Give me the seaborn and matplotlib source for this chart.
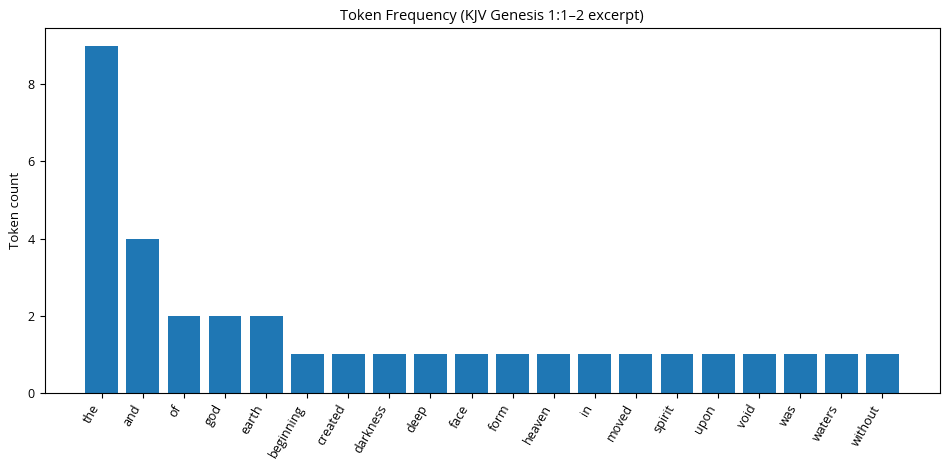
import matplotlib
matplotlib.use("Agg")
import matplotlib.pyplot as plt
import seaborn as sns
import pandas as pd

words = ["the", "and", "of", "god", "earth", "beginning", "created", "darkness",
         "deep", "face", "form", "heaven", "in", "moved", "spirit", "upon",
         "void", "was", "waters", "without"]
counts = [9, 4, 2, 2, 2, 1, 1, 1, 1, 1, 1, 1, 1, 1, 1, 1, 1, 1, 1, 1]

title = "Token Frequency (KJV Genesis 1:1\u20132 excerpt)"
ylabel = "Token count"

plt.rcParams['font.family'] = ['Open Sans', 'DejaVu Sans']
plt.rcParams['font.size'] = 9.5

df = pd.DataFrame({"word": words, "count": counts})

fig = plt.figure(figsize=(9.5, 4.7), dpi=100)
ax = fig.add_axes([0.047, 0.164, 0.942, 0.776])
sns.barplot(data=df, x="word", y="count", color="#1f77b4", saturation=1,
            width=0.8, linewidth=0, edgecolor="none", ax=ax)
n = len(words)
span = (n - 1) + 0.8
ax.set_xlim(-0.4 - 0.05 * span, n - 1 + 0.4 + 0.05 * span)
ax.set_ylim(0, max(counts) * 1.05)
ax.set_yticks([0, 2, 4, 6, 8])
ax.set_xlabel("")
ax.set_ylabel(ylabel, fontsize=9.5, color="black")
ax.set_title(title, fontsize=10.5, color="black")
plt.setp(ax.get_xticklabels(), rotation=60, ha="right", fontsize=9, color="black")
plt.setp(ax.get_yticklabels(), fontsize=9, color="black")
ax.tick_params(colors="black", length=3.5, width=0.8)
for s in ax.spines.values():
    s.set_visible(True)
    s.set_color("black")
    s.set_linewidth(0.8)
fig.savefig("out.png", dpi=100)
